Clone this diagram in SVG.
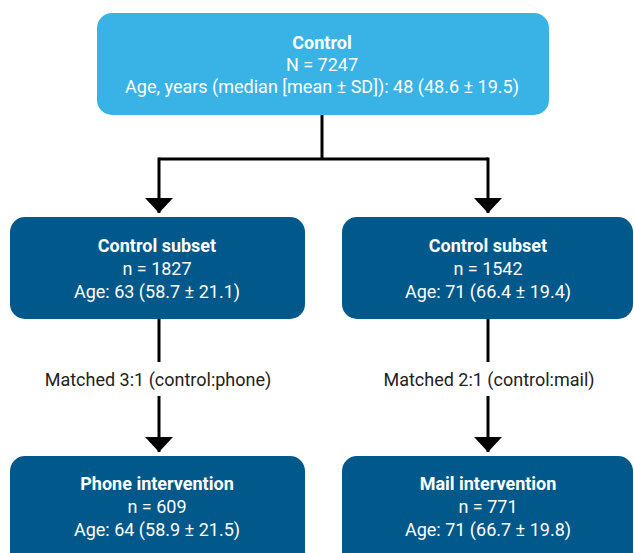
<svg xmlns="http://www.w3.org/2000/svg" width="634" height="553" viewBox="0 0 634 553">
<defs>
<style>
.t{font-family:"Roboto","Liberation Sans",sans-serif;font-size:18px;fill:#fff;text-anchor:middle}
.b{font-weight:bold}
.lab{font-family:"Roboto","Liberation Sans",sans-serif;font-size:18px;fill:#222;text-anchor:middle}
.ln{stroke:#000;stroke-width:3;fill:none}
.dark{fill:#01588b}
</style>
<marker id="ah" viewBox="0 0 15 28" refX="15" refY="14" markerWidth="15" markerHeight="28" markerUnits="userSpaceOnUse" orient="auto">
<path d="M0,0 L15,14 L0,28 Z" fill="#000"/>
</marker>
</defs>
<rect width="634" height="553" fill="#fff"/>
<g id="connectors">
<path class="ln" d="M322,115 V159"/>
<path class="ln" d="M159,159 H488"/>
<path class="ln" d="M159,157.5 V213" marker-end="url(#ah)"/>
<path class="ln" d="M488,157.5 V213" marker-end="url(#ah)"/>
<path class="ln" d="M159,319 V362"/>
<path class="ln" d="M159,396 V452" marker-end="url(#ah)"/>
<path class="ln" d="M488,319 V362"/>
<path class="ln" d="M488,396 V452" marker-end="url(#ah)"/>
<text class="lab" x="158" y="386">Matched 3:1 (control:phone)</text>
<text class="lab" x="489" y="386">Matched 2:1 (control:mail)</text>
</g>
<g id="control">
<rect x="97" y="13" width="452" height="102" rx="15" fill="#39b3e6"/>
<text class="t b" x="322" y="49">Control</text>
<text class="t" x="322" y="71">N = 7247</text>
<text class="t" x="322" y="93">Age, years (median [mean ± SD]): 48 (48.6 ± 19.5)</text>
</g>
<g id="subset1">
<rect class="dark" x="10" y="217" width="295" height="102" rx="15"/>
<text class="t b" x="157" y="252">Control subset</text>
<text class="t" x="157" y="275">n = 1827</text>
<text class="t" x="157" y="298">Age: 63 (58.7 ± 21.1)</text>
</g>
<g id="subset2">
<rect class="dark" x="342" y="217" width="291" height="102" rx="15"/>
<text class="t b" x="488" y="252">Control subset</text>
<text class="t" x="488" y="275">n = 1542</text>
<text class="t" x="488" y="298">Age: 71 (66.4 ± 19.4)</text>
</g>
<g id="phone">
<rect class="dark" x="10" y="456" width="295" height="112" rx="15"/>
<text class="t b" x="157" y="490">Phone intervention</text>
<text class="t" x="157" y="513">n = 609</text>
<text class="t" x="157" y="536">Age: 64 (58.9 ± 21.5)</text>
</g>
<g id="mail">
<rect class="dark" x="342" y="456" width="291" height="112" rx="15"/>
<text class="t b" x="488" y="490">Mail intervention</text>
<text class="t" x="488" y="513">n = 771</text>
<text class="t" x="488" y="536">Age: 71 (66.7 ± 19.8)</text>
</g>
</svg>
